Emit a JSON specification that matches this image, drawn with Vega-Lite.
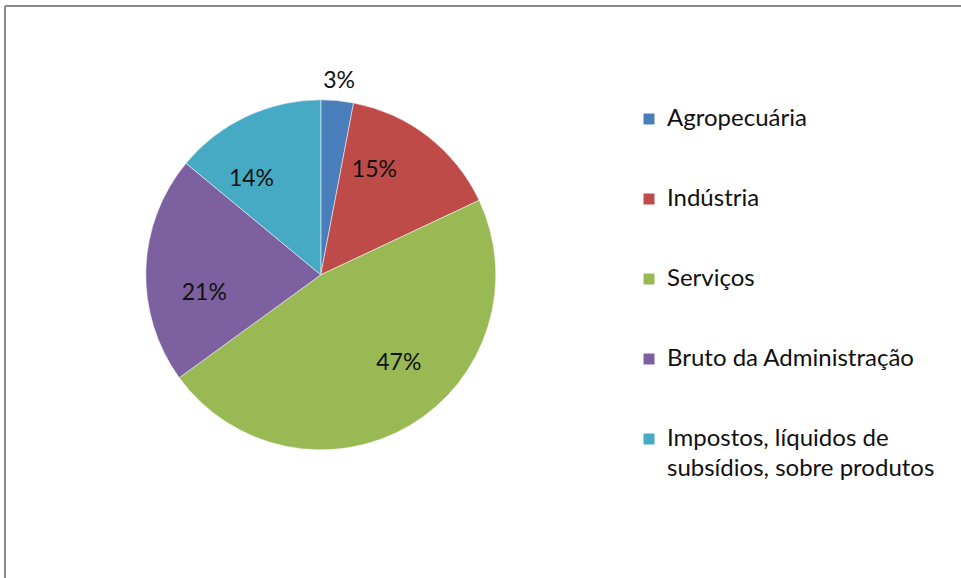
{
  "$schema": "https://vega.github.io/schema/vega-lite/v6.json",
  "width": 957,
  "height": 572,
  "padding": {"left": 5, "top": 6, "right": 0, "bottom": 0},
  "autosize": {"type": "none"},
  "background": "white",
  "config": {"view": {"stroke": null}, "font": "Lato"},
  "data": {
    "values": [
      {"setor": "Agropecuária", "pct": 0.03, "ordem": 1},
      {"setor": "Indústria", "pct": 0.15, "ordem": 2},
      {"setor": "Serviços", "pct": 0.47, "ordem": 3},
      {"setor": "Bruto da Administração", "pct": 0.21, "ordem": 4},
      {"setor": "Impostos, líquidos de subsídios, sobre produtos", "pct": 0.14, "ordem": 5}
    ]
  },
  "encoding": {
    "x": {"datum": 0.33, "type": "quantitative", "scale": {"domain": [0, 1]}, "axis": null},
    "y": {"datum": 0.53, "type": "quantitative", "scale": {"domain": [0, 1]}, "axis": null},
    "theta": {"field": "pct", "type": "quantitative", "stack": true},
    "order": {"field": "ordem"}
  },
  "layer": [
    {
      "mark": {"type": "rule", "color": "#8a8a8a", "strokeWidth": 2},
      "encoding": {"x": {"datum": 0, "type": "quantitative"}, "y": null, "theta": null, "order": null}
    },
    {
      "mark": {"type": "rule", "color": "#8a8a8a", "strokeWidth": 2},
      "encoding": {"y": {"datum": 1, "type": "quantitative"}, "x": null, "theta": null, "order": null}
    },
    {
      "mark": {"type": "arc", "outerRadius": 175, "stroke": "white", "strokeWidth": 0.5},
      "encoding": {
        "color": {
          "field": "setor",
          "type": "nominal",
          "sort": ["Agropecuária", "Indústria", "Serviços", "Bruto da Administração", "Impostos, líquidos de subsídios, sobre produtos"],
          "scale": {
            "domain": ["Agropecuária", "Indústria", "Serviços", "Bruto da Administração", "Impostos, líquidos de subsídios, sobre produtos"],
            "range": ["#4a7ebb", "#be4b48", "#98b954", "#7d60a0", "#46aac5"]
          },
          "legend": {
            "title": null,
            "orient": "none",
            "legendX": 632,
            "legendY": 101,
            "padding": 0,
            "symbolType": "square",
            "symbolSize": 121,
            "symbolStrokeWidth": 0,
            "labelFont": "Lato",
            "labelFontSize": 24,
            "labelColor": "#111111",
            "labelOffset": 6,
            "labelLimit": 400,
            "rowPadding": 56,
            "labelExpr": "datum.label == 'Impostos, líquidos de subsídios, sobre produtos' ? ['Impostos, líquidos de', 'subsídios, sobre produtos'] : datum.label",
            "encoding": {"labels": {"lineHeight": {"value": 30}}}
          }
        }
      }
    },
    {
      "transform": [{"filter": "datum.pct > 0.05"}],
      "mark": {"type": "text", "radius": 118, "fontSize": 23, "font": "Lato", "color": "#111111"},
      "encoding": {
        "text": {"field": "pct", "type": "quantitative", "format": ".0%"},
        "detail": {"field": "setor"}
      }
    },
    {
      "transform": [{"filter": "datum.pct <= 0.05"}],
      "mark": {"type": "text", "radius": 195, "fontSize": 23, "font": "Lato", "color": "#111111"},
      "encoding": {
        "text": {"field": "pct", "type": "quantitative", "format": ".0%"},
        "detail": {"field": "setor"}
      }
    }
  ]
}
